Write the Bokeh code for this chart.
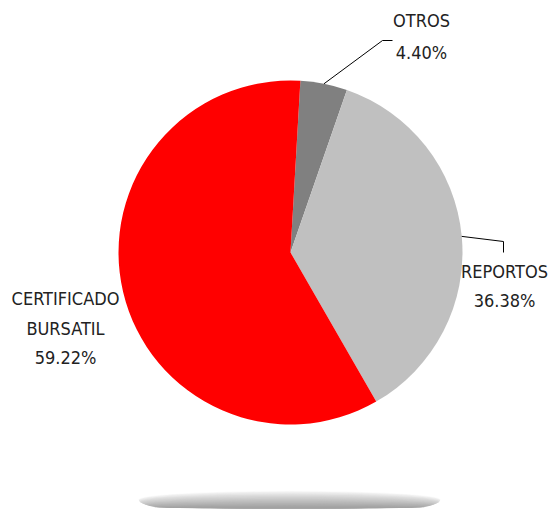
import math
from bokeh.plotting import figure
from bokeh.models import Range1d
from bokeh.core.properties import value
from bokeh.embed import file_html
from bokeh.resources import INLINE

labels = ["OTROS", "REPORTOS", "CERTIFICADO\nBURSATIL"]
values = [4.40, 36.38, 59.22]
pct_labels = ["4.40%", "36.38%", "59.22%"]
colors = ["#808080", "#C0C0C0", "#FF0000"]

W, H = 550, 510
def Y(ys):  # screen y (reference px) -> data y
    return H - ys

p = figure(width=W, height=H, output_backend="svg", toolbar_location=None,
           x_range=Range1d(0, W), y_range=Range1d(0, H),
           min_border=0)
p.axis.visible = False
p.grid.visible = False
p.outline_line_color = None
p.background_fill_color = "white"

cx, cy, r = 290, Y(252), 172
start_offset = math.radians(3.3)
total = sum(values)
cum = 0.0
mids = []
for v, c in zip(values, colors):
    a0 = math.pi / 2 - start_offset - cum / total * 2 * math.pi
    cum += v
    a1 = math.pi / 2 - start_offset - cum / total * 2 * math.pi
    p.wedge(x=cx, y=cy, radius=r, start_angle=a0, end_angle=a1, direction="clock",
            fill_color=c, line_color=None)
    mids.append((a0 + a1) / 2)

# shadow ellipse
n = 16
for i in range(n):
    t = i / (n - 1)
    h = 18 * (1 - 0.9 * t)
    w = 302 * (1 - 0.12 * t ** 2)
    g = int(252 - 90 * t ** 0.8)
    bottom = Y(508)
    p.ellipse(x=289, y=bottom + h / 2, width=w, height=h,
              fill_color="#%02x%02x%02x" % (g, g, g), line_color=None)

font = value("DejaVu Sans Condensed")

# leader lines
def edge(a):
    return cx + r * math.cos(a), cy + r * math.sin(a)

ex, ey = edge(mids[0])
p.line([ex, 382, 392], [ey, Y(40), Y(40)], line_color="black", line_width=1)
ex, ey = edge(mids[1])
p.line([ex, 503, 503], [ey, Y(241), Y(252)], line_color="black", line_width=1)

fs = "18px"
p.text(x=[421, 421], y=[Y(20), Y(52)], text=["OTROS", pct_labels[0]],
       text_align="center", text_baseline="middle", text_font=font,
       text_font_size=fs, text_color="#222222")
p.text(x=[504, 504], y=[Y(271), Y(300)], text=["REPORTOS", pct_labels[1]],
       text_align="center", text_baseline="middle", text_font=font,
       text_font_size=fs, text_color="#222222")
p.text(x=[65, 65, 65], y=[Y(298), Y(328), Y(357)],
       text=["CERTIFICADO", "BURSATIL", pct_labels[2]],
       text_align="center", text_baseline="middle", text_font=font,
       text_font_size=fs, text_color="#222222")

open("out.html", "w").write(file_html(p, INLINE))
